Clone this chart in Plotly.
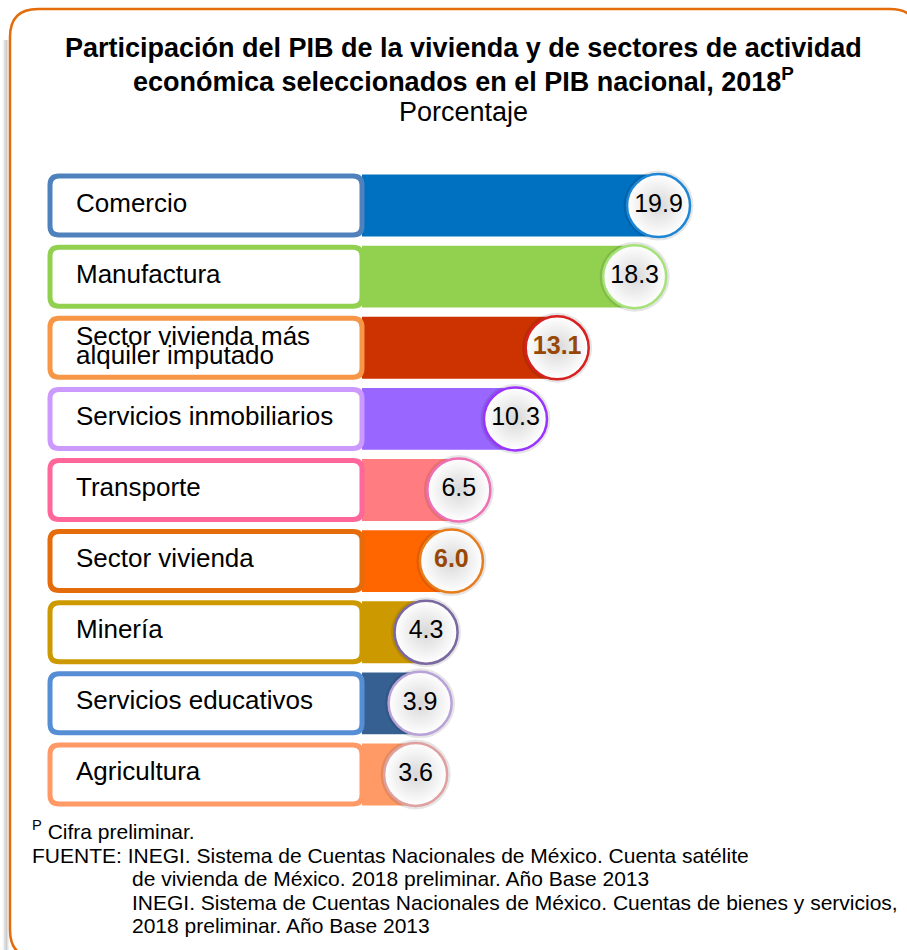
import plotly.graph_objects as go

# ---------------- data ----------------
categories = [
    "Comercio",
    "Manufactura",
    "Sector vivienda más alquiler imputado",
    "Servicios inmobiliarios",
    "Transporte",
    "Sector vivienda",
    "Minería",
    "Servicios educativos",
    "Agricultura",
]
values = [19.9, 18.3, 13.1, 10.3, 6.5, 6.0, 4.3, 3.9, 3.6]
label_lines = [
    ["Comercio"],
    ["Manufactura"],
    ["Sector vivienda más", "alquiler imputado"],
    ["Servicios inmobiliarios"],
    ["Transporte"],
    ["Sector vivienda"],
    ["Minería"],
    ["Servicios educativos"],
    ["Agricultura"],
]
highlight = [False, False, True, False, False, True, False, False, False]

bar_colors = ["#0070C0", "#92D050", "#CC3300", "#9966FF", "#FF7C80",
              "#FF6600", "#CC9900", "#376092", "#FF9966"]
box_colors = ["#4F81BD", "#92D050", "#F79646", "#CC99FF", "#FF6699",
              "#E46C0A", "#CC9900", "#558ED5", "#FF9966"]
ring_colors = ["#1F86D6", "#A6E27A", "#D92020", "#9933FF", "#EE6FB5",
               "#E87D1E", "#7B68A0", "#B8A2D8", "#E0A0A0"]

title_line1 = "Participación del PIB de la vivienda y de sectores de actividad"
title_line2 = "económica seleccionados en el PIB nacional, 2018<sup>P</sup>"
subtitle = "Porcentaje"
notes = [
    ("<sup>P</sup> Cifra preliminar.", 30, 830),
    ("FUENTE: INEGI. Sistema de Cuentas Nacionales de México. Cuenta satélite", 30, 855),
    ("de vivienda de México. 2018 preliminar. Año Base 2013", 130, 878),
    ("INEGI. Sistema de Cuentas Nacionales de México. Cuentas de bienes y servicios,", 130, 902),
    ("2018 preliminar. Año Base 2013", 130, 925),
]

# ---------------- layout geometry ----------------
W, H = 907, 950
M_T, M_B = 170, 140
X0_PX = 362          # pixel where value 0 sits
PX_PER_UNIT = 14.9
N = len(categories)
ROW_PX = (H - M_T - M_B) / N
FONT = "Liberation Sans, Arial, sans-serif"


def xd(px):
    return (px - X0_PX) / PX_PER_UNIT


def pxx(px):
    return px / W


def pxy(py):
    return (H - M_B - py) / (H - M_T - M_B)


def rrect_path(x0, x1, y0, y1, rx, ry):
    return (f"M {x0+rx},{y0} L {x1-rx},{y0} Q {x1},{y0} {x1},{y0+ry} "
            f"L {x1},{y1-ry} Q {x1},{y1} {x1-rx},{y1} "
            f"L {x0+rx},{y1} Q {x0},{y1} {x0},{y1-ry} "
            f"L {x0},{y0+ry} Q {x0},{y0} {x0+rx},{y0} Z")


fig = go.Figure()

fig.add_trace(go.Bar(
    x=values, y=categories, orientation="h",
    marker=dict(color=bar_colors, line=dict(width=0)),
    width=0.87, hoverinfo="skip", showlegend=False,
))

texts = [f"<b>{v:.1f}</b>" if h else f"{v:.1f}" for v, h in zip(values, highlight)]
text_colors = ["#984806" if h else "#000000" for h in highlight]

fig.add_trace(go.Scatter(
    x=values, y=categories, mode="markers",
    marker=dict(size=70, color="rgba(0,0,0,0.10)", line=dict(width=0)),
    cliponaxis=False, hoverinfo="skip", showlegend=False,
))
fig.add_trace(go.Scatter(
    x=values, y=categories, mode="markers+text",
    text=texts, textposition="middle center",
    textfont=dict(family=FONT, size=25, color=text_colors),
    marker=dict(size=63, color="white",
                gradient=dict(type="radial", color="#D8D8D8"),
                line=dict(color=ring_colors, width=2.5)),
    cliponaxis=False, hoverinfo="skip", showlegend=False,
))

shapes = []
half_h = 29.5 / ROW_PX
rx = 9 / PX_PER_UNIT
ry = 9 / ROW_PX
for i, col in enumerate(box_colors):
    shapes.append(dict(
        type="path", xref="x", yref="y",
        path=rrect_path(xd(50), xd(362), i - half_h, i + half_h, rx, ry),
        fillcolor="white", line=dict(color=col, width=5), layer="above",
    ))

for k, op in enumerate([0.05, 0.08, 0.12]):
    off = 6 - k * 1.5
    shapes.append(dict(
        type="path", xref="paper", yref="paper",
        path=f"M {pxx(10-off)},{pxy(40)} L {pxx(10-off)},{pxy(955)}",
        line=dict(color=f"rgba(0,0,0,{op})", width=3), layer="below",
    ))
fx0, fx1, fy0, fy1 = 10, 918, 9, 958
shapes.append(dict(
    type="path", xref="paper", yref="paper",
    path=rrect_path(pxx(fx0), pxx(fx1), pxy(fy0), pxy(fy1),
                    28 / W, -28 / (H - M_T - M_B)),
    fillcolor="rgba(0,0,0,0)", line=dict(color="#E46C0A", width=2.5), layer="above",
))

annotations = []
for i, lines in enumerate(label_lines):
    shifts = [3] if len(lines) == 1 else [12, -7]
    for line, s in zip(lines, shifts):
        annotations.append(dict(
            x=xd(74), y=categories[i], xref="x", yref="y",
            text=line, showarrow=False, xanchor="left", yanchor="middle",
            yshift=s, font=dict(family=FONT, size=26, color="#000000"),
        ))

for txt, py, bold in [(title_line1, 48, True), (title_line2, 80, True), (subtitle, 112, False)]:
    annotations.append(dict(
        x=pxx(463), y=pxy(py), xref="paper", yref="paper",
        text=f"<b>{txt}</b>" if bold else txt, showarrow=False,
        xanchor="center", yanchor="middle",
        font=dict(family=FONT, size=27, color="#000000"),
    ))

for txt, px, py in notes:
    annotations.append(dict(
        x=pxx(px), y=pxy(py), xref="paper", yref="paper",
        text=txt, showarrow=False, xanchor="left", yanchor="middle",
        font=dict(family=FONT, size=21, color="#000000"),
    ))

fig.update_layout(
    width=W, height=H,
    margin=dict(l=0, r=0, t=M_T, b=M_B, pad=0),
    paper_bgcolor="white", plot_bgcolor="white",
    showlegend=False,
    xaxis=dict(range=[xd(0), xd(W)], visible=False, fixedrange=True),
    yaxis=dict(type="category", categoryorder="array", categoryarray=categories,
               range=[N - 0.5, -0.5], visible=False, fixedrange=True),
    shapes=shapes, annotations=annotations,
    font=dict(family=FONT),
)

fig.write_html("out.html", config={"displayModeBar": False},
               post_script="document.body.style.margin='0px';")
